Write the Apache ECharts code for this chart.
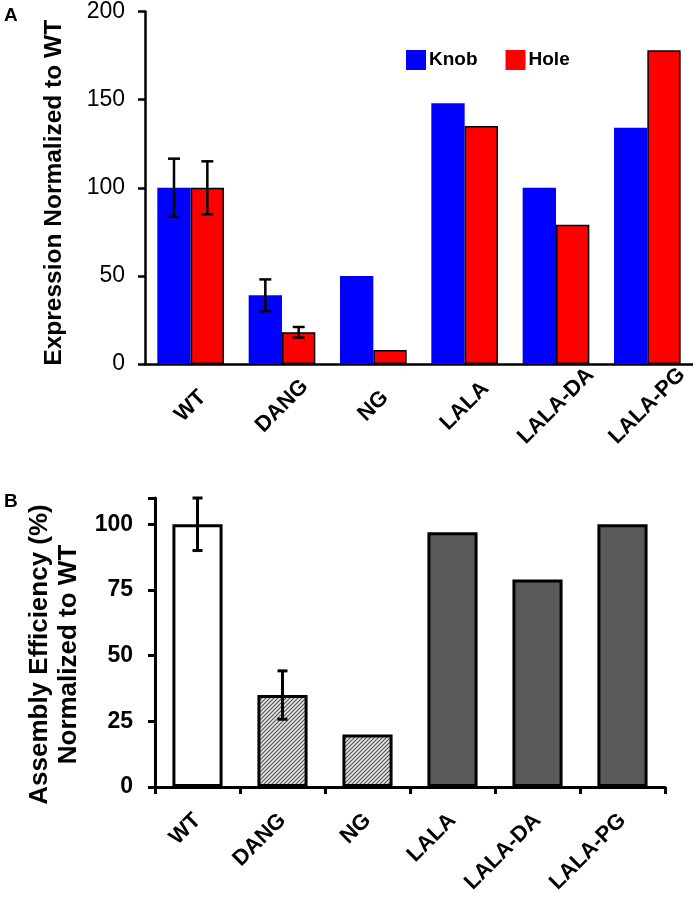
<!DOCTYPE html>
<html>
<head>
<meta charset="utf-8">
<script src="https://cdn.jsdelivr.net/npm/echarts@6/dist/echarts.min.js"></script>
<style>
html,body{margin:0;padding:0;background:#fff;}
#chart{width:693px;height:904px;}
</style>
</head>
<body>
<div id="chart"></div>
<script>
// ---- data ----
const categories = ['WT', 'DANG', 'NG', 'LALA', 'LALA-DA', 'LALA-PG'];
const knobValues = [100, 39, 50, 148, 100, 134];
const knobErrors = [16.5, 9, null, null, null, null];
const holeValues = [100, 18, 8, 135, 79, 178];
const holeErrors = [15, 3, null, null, null, null];
const assemblyValues = [100, 35, 20, 97, 79, 100];
const assemblyErrors = [10, 9.2, null, null, null, null];
const topTicks = [0, 50, 100, 150, 200];
const bottomTicks = [0, 25, 50, 75, 100];

const FONT = '"Liberation Sans", Arial, sans-serif';

// hatch pattern
function makeHatch() {
  const c = document.createElement('canvas');
  c.width = 4; c.height = 4;
  const g = c.getContext('2d');
  g.fillStyle = '#e6e6e6';
  g.fillRect(0, 0, 4, 4);
  g.strokeStyle = '#555';
  g.lineWidth = 1.2;
  g.beginPath();
  g.moveTo(-1, 5); g.lineTo(5, -1);
  g.moveTo(-1, 1); g.lineTo(1, -1);
  g.moveTo(3, 5); g.lineTo(5, 3);
  g.stroke();
  return c;
}
const hatch = makeHatch();

function errData(vals, errs) {
  const out = [];
  vals.forEach((v, i) => {
    if (errs[i] != null) out.push([i, v - errs[i], v + errs[i]]);
  });
  return out;
}

function errRender(offsetFrac, capW, lw) {
  return function (params, api) {
    const i = api.value(0);
    const band = api.size([1, 0])[0];
    const lo = api.coord([i, api.value(1)]);
    const hi = api.coord([i, api.value(2)]);
    const x = lo[0] + band * offsetFrac;
    const style = { stroke: '#000', lineWidth: lw };
    return {
      type: 'group',
      children: [
        { type: 'line', shape: { x1: x, y1: lo[1], x2: x, y2: hi[1] }, style },
        { type: 'line', shape: { x1: x - capW / 2, y1: hi[1], x2: x + capW / 2, y2: hi[1] }, style },
        { type: 'line', shape: { x1: x - capW / 2, y1: lo[1], x2: x + capW / 2, y2: lo[1] }, style }
      ]
    };
  };
}

const barGapFrac = 0.27;
const halfOff = (1 - barGapFrac) / 4;

const assemblyStyled = assemblyValues.map((v, i) => {
  let color;
  if (i === 0) color = '#ffffff';
  else if (i === 1 || i === 2) color = { image: hatch, repeat: 'repeat' };
  else color = '#595959';
  return { value: v, itemStyle: { color: color, borderColor: '#000', borderWidth: 3 } };
});

const chart = echarts.init(document.getElementById('chart'), null, { renderer: 'canvas' });

const option = {
  backgroundColor: '#fff',
  animation: false,
  textStyle: { fontFamily: FONT, color: '#000' },
  graphic: [
    { type: 'text', left: 4, top: 6, style: { text: 'A', font: 'bold 19px ' + FONT, fill: '#000' } },
    { type: 'text', left: 4, top: 492, style: { text: 'B', font: 'bold 19px ' + FONT, fill: '#000' } }
  ],
  legend: {
    data: ['Knob', 'Hole'],
    left: 406, top: 50,
    itemWidth: 20, itemHeight: 20, itemGap: 28,
    icon: 'rect',
    padding: 0,
    itemStyle: { borderWidth: 0 },
    textStyle: { fontSize: 19, fontWeight: 'bold', fontFamily: FONT, color: '#000', padding: [0, 0, 0, -2] }
  },
  grid: [
    { left: 145, top: 10, width: 548, height: 354 },
    { left: 155, top: 498, width: 510, height: 289 }
  ],
  xAxis: [
    {
      gridIndex: 0, type: 'category', data: categories,
      axisLine: { lineStyle: { color: '#000', width: 2.5 } },
      axisTick: { show: false },
      axisLabel: { rotate: 45, margin: 42, align: 'center', verticalAlign: 'middle',
        fontSize: 22, fontWeight: 'bold', fontFamily: FONT, color: '#000', interval: 0 }
    },
    {
      gridIndex: 1, type: 'category', data: categories,
      axisLine: { lineStyle: { color: '#000', width: 3 } },
      axisTick: { show: true, length: 7, lineStyle: { color: '#000', width: 3 } },
      axisLabel: { rotate: 45, margin: 30, fontSize: 22, fontWeight: 'bold', fontFamily: FONT, color: '#000', interval: 0 }
    }
  ],
  yAxis: [
    {
      gridIndex: 0, type: 'value', min: topTicks[0], max: topTicks[topTicks.length - 1], interval: 50,
      splitLine: { show: false },
      axisLine: { show: true, lineStyle: { color: '#000', width: 2.5 } },
      axisTick: { show: true, length: 7, lineStyle: { color: '#000', width: 2.5 } },
      axisLabel: { margin: 20, fontSize: 23, fontFamily: FONT, color: '#000' },
      name: 'Expression Normalized to WT',
      nameLocation: 'middle', nameRotate: 90, nameGap: 78,
      nameTextStyle: { fontSize: 24.5, fontWeight: 'bold', fontFamily: FONT, color: '#000', padding: [0, 10, 0, 0] }
    },
    {
      gridIndex: 1, type: 'value', min: bottomTicks[0], max: 110, interval: 25,
      splitLine: { show: false },
      axisLine: { show: true, lineStyle: { color: '#000', width: 3 } },
      axisTick: { show: true, length: 7, lineStyle: { color: '#000', width: 3 } },
      axisLabel: { margin: 22, fontSize: 23, fontWeight: 'bold', fontFamily: FONT, color: '#000',
        formatter: v => (bottomTicks.indexOf(v) >= 0 ? String(v) : '') },
      name: 'Assembly Efficiency (%)\nNormalized to WT',
      nameLocation: 'middle', nameRotate: 90, nameGap: 63,
      nameTextStyle: { fontSize: 26, fontWeight: 'bold', fontFamily: FONT, color: '#000', lineHeight: 29, align: 'center', padding: [0, 24, 0, 0] }
    }
  ],
  series: [
    {
      name: 'Knob', type: 'bar', xAxisIndex: 0, yAxisIndex: 0,
      data: knobValues, barGap: '0%', barCategoryGap: (barGapFrac * 100) + '%',
      itemStyle: { color: '#0000ff' }
    },
    {
      name: 'Hole', type: 'bar', xAxisIndex: 0, yAxisIndex: 0,
      data: holeValues, barGap: '0%', barCategoryGap: (barGapFrac * 100) + '%',
      itemStyle: { color: '#ff0000', borderColor: '#000', borderWidth: 1.5 }
    },
    {
      name: 'KnobErr', type: 'custom', xAxisIndex: 0, yAxisIndex: 0,
      data: errData(knobValues, knobErrors), renderItem: errRender(-halfOff, 12, 2.5), z: 5
    },
    {
      name: 'HoleErr', type: 'custom', xAxisIndex: 0, yAxisIndex: 0,
      data: errData(holeValues, holeErrors), renderItem: errRender(halfOff, 12, 2.5), z: 5
    },
    {
      name: 'Assembly', type: 'bar', xAxisIndex: 1, yAxisIndex: 1,
      data: assemblyStyled, barCategoryGap: '41%'
    },
    {
      name: 'AssemblyErr', type: 'custom', xAxisIndex: 1, yAxisIndex: 1,
      data: errData(assemblyValues, assemblyErrors), renderItem: errRender(0, 10, 3), z: 5
    }
  ]
};
chart.setOption(option);
</script>
</body>
</html>
